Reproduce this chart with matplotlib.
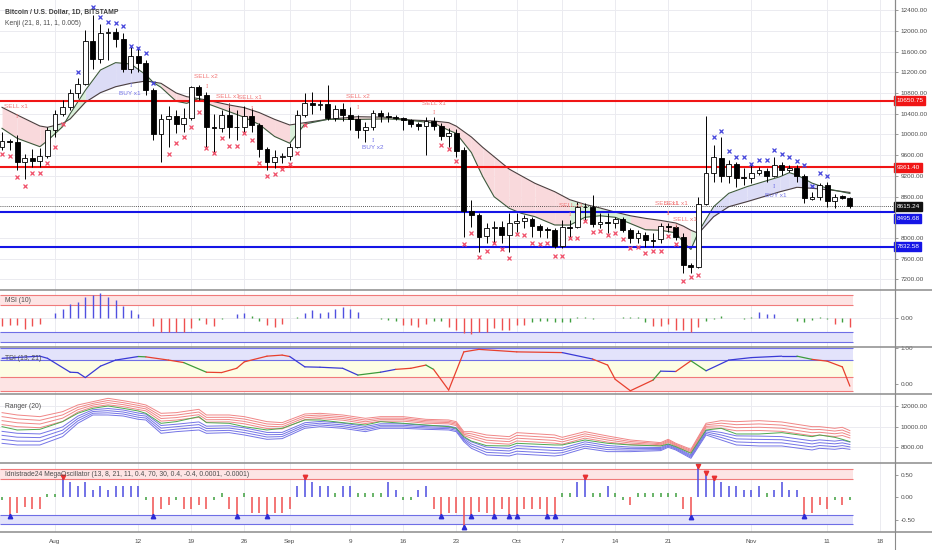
import matplotlib
matplotlib.use("Agg")
import matplotlib.pyplot as plt
from matplotlib.lines import Line2D
from matplotlib.ticker import FuncFormatter

plt.rcParams['font.family'] = ['Liberation Sans', 'DejaVu Sans']

# ---------------------------------------------------------------- data
# x = day offset from 1 Aug 2019 (first candle 25 Jul, last 14 Nov)
days = list(range(-7, 106))

opens = [9763, 9880, 9845, 9474, 9540, 9490, 9590, 10085, 10400, 10520, 10800, 10970, 11800, 11450,
         11950, 11975, 11850, 11260, 11520, 11380, 10860, 10010, 10300, 10350, 10200, 10310, 10910,
         10760, 10140, 10120, 10380, 10150, 10140, 10355, 10180, 9712, 9474, 9570, 9590, 9763, 10375,
         10613, 10568, 10580, 10310, 10484, 10375, 10290, 10085, 10150, 10420, 10355, 10340, 10310,
         10278, 10201, 10163, 10259, 10163, 9969, 10034, 9700, 8528, 8445, 8046, 8187, 8220, 8058,
         8297, 8335, 8368, 8239, 8168, 8155, 7853, 8220, 8207, 8593, 8593, 8271, 8316, 8284, 8361,
         8155, 8007, 8058, 7962, 7975, 8232, 8207, 8026, 7480, 7435, 8657, 9262, 9538, 9197, 9422,
         9171, 9152, 9262, 9300, 9197, 9410, 9313, 9345, 9197, 8747, 8798, 9023, 8715, 8811, 8766]
highs = [10052, 9910, 9990, 9620, 9710, 9730, 10150, 10470, 10660, 10870, 11080, 12020, 12310, 12140,
         12060, 12050, 11950, 11690, 11690, 11440, 10890, 10400, 10540, 10470, 10500, 10940, 10950,
         10810, 10400, 10470, 10600, 10480, 10540, 10500, 10214, 9763, 9700, 9635, 9830, 10470, 10790,
         10825, 10660, 10950, 10570, 10600, 10530, 10375, 10245, 10470, 10470, 10440, 10375, 10340,
         10290, 10245, 10340, 10340, 10214, 10120, 10100, 9763, 8734, 8477, 8284, 8330, 8330, 8477,
         8477, 8445, 8412, 8270, 8220, 8187, 8348, 8348, 8702, 8670, 8830, 8477, 8477, 8412, 8412,
         8187, 8155, 8123, 8091, 8284, 8284, 8252, 8091, 7525, 8785, 10355, 9795, 9956, 9506, 9474,
         9345, 9410, 9378, 9345, 9570, 9474, 9410, 9410, 9236, 8895, 9056, 9088, 8850, 8830, 8785]
lows = [9700, 9700, 9313, 9130, 9380, 9380, 9550, 9950, 10350, 10470, 10700, 10960, 11270, 11370,
        11430, 11690, 11210, 11180, 11210, 10760, 9890, 9470, 9760, 10020, 10050, 10280, 10660, 9760,
        9670, 10050, 9924, 9900, 10050, 10050, 9570, 9310, 9345, 9440, 9506, 9730, 10340, 10400,
        10470, 10280, 10250, 10250, 10085, 9925, 9860, 10085, 10245, 10245, 10280, 10085, 10150,
        10085, 9600, 10085, 9892, 9760, 9570, 8026, 8220, 7737, 7898, 7898, 7898, 7737, 8123, 8187,
        8026, 8026, 7994, 7801, 7801, 8026, 8187, 8350, 8220, 8187, 8091, 8187, 8123, 7898, 7898,
        7834, 7834, 7898, 8123, 7962, 7319, 7319, 7425, 8637, 9088, 9088, 9056, 8991, 9023, 9056,
        9217, 9088, 9185, 9217, 9281, 9088, 8670, 8734, 8734, 8605, 8573, 8747, 8573]
closes = [9880, 9845, 9474, 9540, 9490, 9590, 10085, 10400, 10520, 10800, 10970, 11800, 11450, 11950,
          11975, 11850, 11260, 11520, 11380, 10860, 10010, 10300, 10350, 10200, 10310, 10910, 10760,
          10140, 10120, 10380, 10150, 10140, 10355, 10180, 9712, 9474, 9570, 9590, 9763, 10375, 10613,
          10568, 10580, 10310, 10484, 10375, 10290, 10085, 10150, 10420, 10355, 10340, 10310, 10278,
          10201, 10163, 10259, 10163, 9969, 10034, 9686, 8528, 8445, 8026, 8187, 8207, 8058, 8297,
          8335, 8380, 8239, 8155, 8162, 7853, 8207, 8187, 8593, 8590, 8271, 8316, 8284, 8361, 8155,
          7994, 8091, 7962, 7950, 8232, 8207, 8026, 7480, 7448, 8657, 9262, 9557, 9197, 9422, 9152,
          9152, 9262, 9313, 9197, 9410, 9313, 9345, 9197, 8766, 8798, 9023, 8715, 8798, 8779, 8615.24]

# horizontal levels drawn on the price pane
red_levels = [10650.75, 9361.40]
blue_levels = [8495.68, 7832.58]
last_price = 8615.24
price_ticks = [7200, 7600, 8000, 8800, 9200, 9600, 10000, 10400, 10800, 11200, 11600, 12000, 12400]

# Kenji lines (at these days)
kenji_days = [-7, -5, -2, -1, 1, 2, 4, 6, 8, 10, 12, 13, 14, 16, 17.4, 19, 20, 23, 25, 27, 29, 31, 33,
              36, 40, 44, 47, 50, 52, 53, 55, 56.5, 58, 60, 61.6, 63.4, 66, 68, 70, 72, 74, 76, 78,
              80, 82, 83, 84, 85, 87, 89, 91.4, 93.6, 95.8, 97, 98, 100, 102.4, 105]
kenji_fast = [10117, 9924, 9763, 9879, 10150, 10400, 10850, 11243, 11385, 11359, 11150, 11000, 10908,
              10640, 10600, 10696, 10600, 10439, 10330, 10190, 9960, 9830, 10200, 10290, 10290, 10300,
              10270, 10220, 10080, 10020, 9650, 9185, 8798, 8573, 8477, 8412, 8252, 8250, 8400, 8430,
              8400, 8280, 8160, 8150, 8100, 7920, 7780, 8120, 8605, 8863, 8991, 9088, 9185, 9262, 9217,
              9060, 8940, 8860]
kenji_slow = [10522, 10375, 10162, 10137, 10210, 10300, 10620, 10806, 10920, 10986, 11030, 11010, 10986,
              10800, 10728, 10690, 10664, 10568, 10516, 10420, 10291, 10182, 10227, 10291, 10342, 10330,
              10278, 10259, 10227, 10160, 9950, 9750, 9570, 9330, 9200, 9056, 8895, 8740, 8650, 8580,
              8500, 8430, 8380, 8340, 8290, 8230, 8150, 8090, 8412, 8605, 8702, 8798, 8895, 8940, 8979,
              8960, 8927, 8880]
kenji_zone = "rrrgggbbbbggrrrrrrrrrgbrrrrrrrrrrrrrrggggrrrrrgbbbbbbbbbb"

# signal crosses
sell_x_days = [-7, -6, -5, -4, -3, -2, -1, 0, 1, 15, 16, 17, 18, 19, 20, 21, 22, 23, 24, 25, 26, 27, 28,
               29, 30, 31, 32, 33, 51, 52, 53, 54, 55, 56, 57, 58, 59, 60, 61, 62, 63, 64, 65, 66, 67,
               68, 69, 70, 71, 72, 73, 74, 75, 76, 77, 78, 79, 80, 81, 82, 83, 84, 85]
sell_x_prices = [9622, 9583, 9185, 9004, 9249, 9249, 9442, 9763, 10201, 9622, 9841, 9944, 10137, 10439,
                 9731, 9635, 9924, 9776, 9776, 10021, 9892, 9442, 9197, 9236, 9326, 9429, 9635, 10182,
                 9796, 9712, 9493, 7885, 8091, 7628, 7756, 7898, 7788, 7608, 8078, 8059, 7898, 7885,
                 7898, 7660, 7660, 7994, 7994, 8335, 8110, 8136, 8059, 8104, 7975, 7801, 7820, 7705,
                 7756, 7756, 8046, 7885, 7177, 7255, 7287]
buy_x_days = [3, 5, 6, 7, 8, 9, 10, 11, 12, 13, 87, 88, 89, 90, 91, 92, 93, 94, 95, 96, 97, 98, 99,
              100, 101, 102]
buy_x_prices = [11211, 12452, 12259, 12163, 12157, 12092, 11706, 11661, 11565, 10986, 9943, 10072, 9686,
                9557, 9557, 9429, 9506, 9506, 9699, 9615, 9570, 9493, 9410, 9004, 9262, 9197]

# signal labels: text, day, price, tick day, tick price
signal_text = ["SELL x1", "BUY x1", "SELL x2", "SELL x1", "SELL x1", "SELL x2", "BUY x2", "SELL x1",
               "SELL x1", "SELL x1", "SELL x1", "SELL x1", "BUY x1"]
signal_day = [-5.2, 9.9, 19.9, 22.9, 25.8, 40, 42, 50, 68.2, 80.8, 82.0, 83.2, 95.2]
signal_price = [10529, 10780, 11108, 10722, 10703, 10722, 9738, 10587, 8637, 8676, 8676, 8367, 8830]
signal_tick_day = [-5, 10, 20, 23, 26, 40, 42, 50, 68, 81, 81, 82, 95]
signal_tick_price = [10342, 10940, 10934, 10535, 10504, 10523, 9892, 10426, 8458, 8483, 8483, 8219, 9004]

# MSI (10)
msi = [-0.33, -0.29, -0.29, -0.47, -0.33, -0.26, 0.0, 0.21, 0.40, 0.61, 0.69, 0.92, 0.98, 1.06, 0.92,
       0.78, 0.50, 0.33, 0.20, 0.0, -0.33, -0.57, -0.57, -0.57, -0.57, -0.43, -0.06, -0.24, -0.31,
       -0.04, 0.02, 0.17, 0.21, 0.11, -0.10, -0.29, -0.38, -0.24, 0.01, 0.04, 0.24, 0.33, 0.21, 0.26,
       0.41, 0.47, 0.38, 0.27, 0.03, 0.01, -0.04, -0.07, -0.10, -0.30, -0.30, -0.38, -0.24, -0.10,
       -0.13, -0.38, -0.52, -0.64, -0.68, -0.57, -0.57, -0.43, -0.52, -0.52, -0.29, -0.29, -0.14,
       -0.10, -0.10, -0.14, -0.14, -0.14, 0.04, 0.04, -0.04, 0.0, 0.0, 0.02, 0.04, 0.04, 0.04, -0.14,
       -0.33, -0.33, -0.24, -0.52, -0.52, -0.57, -0.38, -0.10, -0.04, 0.11, 0.02, 0.02, -0.04, 0.04,
       0.27, 0.18, 0.18, 0.02, 0.02, -0.10, -0.14, -0.07, 0.04, -0.04, -0.24, -0.14, -0.38]

# TDI (13, 21)
tdi_days = [-7, -2, -1, 2, 3, 4, 6, 8, 11, 12, 15, 17, 20, 22, 24, 25, 28, 30, 31, 33, 35, 38, 40, 43,
            45, 47, 49, 50, 52, 54, 56, 61, 67, 71, 73, 74, 76, 79, 80, 82, 84, 86, 89, 92, 96, 98,
            100, 102, 104, 105]
tdi = [0.72, 0.78, 0.72, 0.33, 0.32, 0.18, 0.50, 0.67, 0.77, 0.76, 0.67, 0.60, 0.33, 0.32, 0.44, 0.62,
       0.78, 0.81, 0.77, 0.48, 0.47, 0.44, 0.25, 0.33, 0.41, 0.44, 0.53, 0.41, -0.17, 0.90, 0.97, 0.90,
       0.88, 0.70, 0.53, 0.13, -0.19, 0.11, 0.36, 0.35, 0.65, 0.37, 0.67, 0.74, 0.78, 0.78, 0.69, 0.64,
       0.48, -0.06]
tdi_state = "bbbbbbbbgrrgrrrrrrbbbbgbrrgrrrrrbrrrrgbrgbbbbgrrr"

# Ranger (20): top red, middle green, bottom blue
ranger_days = [-7, -5, -2, 1, 3, 5, 7, 9, 11, 12, 14, 16, 19, 20, 23, 25, 28, 30, 33, 35, 38, 41, 43,
               46, 49, 52, 53, 54, 55, 57, 60, 61, 66, 67, 70, 73, 76, 80, 81, 82, 84, 86, 88, 90, 93,
               96, 100, 101, 103, 104, 105]
ranger_top = [11355, 11130, 10968, 11452, 12098, 12421, 12743, 12517, 12259, 12098, 11291, 11356, 11678,
              11130, 11130, 10968, 10484, 10387, 11226, 11291, 11130, 10807, 10968, 10968, 10710, 10646,
              10484, 9515, 9515, 9193, 9031, 9419, 9193, 8967, 9515, 9096, 8709, 8450, 8773, 8386, 7805,
              10323, 10581, 10484, 10581, 10452, 10000, 10000, 9838, 9935, 9612]
ranger_mid = [10000, 9677, 9741, 10484, 11291, 11775, 12001, 11775, 11517, 11291, 10323, 10484, 10968,
              10387, 10323, 10000, 9677, 9838, 10645, 10645, 10387, 10161, 10484, 10323, 10161, 10000,
              9838, 9031, 8600, 8160, 8128, 8386, 8225, 8225, 8708, 8386, 8225, 8128, 8321, 8063, 7418,
              9677, 9838, 9290, 9290, 9419, 9031, 9193, 8967, 8773, 8547]
ranger_bot = [8386, 8225, 8225, 9031, 10323, 11130, 11130, 11033, 10710, 10646, 9354, 9515, 9677, 9354,
              9419, 9193, 8773, 8838, 9838, 10000, 9838, 9515, 9838, 9838, 9741, 9677, 9515, 8547, 7902,
              7256, 7160, 7353, 7160, 7256, 7902, 7579, 7579, 7676, 7999, 7740, 6933, 9193, 8709, 8225,
              8128, 8128, 7740, 7902, 7805, 7902, 7805]

# Idnistrade24 MegaOscillator
osc = [-0.05, -0.41, -0.34, -0.21, -0.27, -0.27, 0.07, 0.07, 0.46, 0.33, 0.26, 0.33, 0.16, 0.25, 0.16,
       0.25, 0.25, 0.25, 0.25, -0.06, -0.41, -0.27, -0.17, -0.07, -0.27, -0.27, -0.17, -0.27, -0.07,
       0.09, -0.27, -0.41, 0.09, -0.34, -0.34, -0.41, -0.34, -0.34, -0.27, 0.25, 0.46, 0.33, 0.25,
       0.25, 0.09, 0.25, 0.25, 0.09, 0.09, 0.09, 0.09, 0.33, 0.16, -0.07, -0.07, 0.16, 0.25, -0.27,
       -0.41, -0.34, -0.34, -0.65, -0.41, -0.32, -0.34, -0.41, -0.27, -0.41, -0.41, -0.27, -0.27,
       -0.27, -0.41, -0.41, 0.09, 0.09, 0.33, 0.46, 0.09, 0.09, 0.25, 0.09, -0.07, -0.17, 0.09, 0.09,
       0.09, 0.09, 0.09, 0.09, -0.27, -0.44, 0.70, 0.53, 0.44, 0.33, 0.25, 0.25, 0.16, 0.16, 0.25,
       0.09, 0.16, 0.33, 0.16, 0.16, -0.41, -0.34, -0.17, -0.27, -0.07, -0.17, -0.07]
osc_up_days = [-6, 13, 24, 28, 51, 54, 55, 58, 60, 61, 65, 66, 84, 99]
osc_down_days = [1, 33, 70, 85, 86, 87]

tick_days = [0, 11, 18, 25, 31, 39, 46, 53, 61, 67, 74, 81, 92, 102, 109]
tick_labels = ["Aug", "12", "19", "26", "Sep", "9", "16", "23", "Oct", "7", "14", "21", "Nov", "11", "18"]

# ---------------------------------------------------------------- layout
W, H = 932, 550
X_RIGHT = 895
XMIN, XMAX = -7.27, 110.96
LAST = 105.45
FS = 4.6
GRID = '#ebebf0'
TXT = '#4d4d4d'
PINK, LBLUE, LGREEN = '#f9d9dc', '#dcdcf6', '#d9f0d9'

fig = plt.figure(figsize=(W / 100, H / 100), dpi=100)
fig.patch.set_facecolor('white')


def pane(top, bottom):
    ax = fig.add_axes([0, 1 - bottom / H, X_RIGHT / W, (bottom - top) / H])
    ax.set_xlim(XMIN, XMAX)
    for s in ('top', 'left', 'bottom'):
        ax.spines[s].set_visible(False)
    ax.spines['right'].set_color('#8a8a8a')
    ax.spines['right'].set_linewidth(0.8)
    ax.yaxis.tick_right()
    ax.tick_params(axis='y', labelsize=FS, labelcolor=TXT, color='#8a8a8a', length=2.5, width=0.6, pad=1.5)
    ax.set_xticks(tick_days)
    ax.tick_params(axis='x', length=0, labelbottom=False)
    ax.grid(axis='x', color=GRID, lw=0.7)
    ax.set_axisbelow(True)
    ax.yaxis.set_major_formatter(FuncFormatter(lambda v, p: f'{v:.2f}'))
    return ax


# ---- price pane
ax = pane(0, 290)
ax.set_ylim(6997, 12594)
ax.set_yticks(price_ticks)
ax.grid(axis='y', color=GRID, lw=0.7)

for i, z in enumerate(kenji_zone):
    col = {'r': PINK, 'b': LBLUE, 'g': LGREEN}[z]
    ax.fill_between(kenji_days[i:i + 2], kenji_fast[i:i + 2], kenji_slow[i:i + 2], color=col, lw=0, zorder=1)
ax.plot(kenji_days, kenji_slow, color='#4b3f3f', lw=0.8, zorder=2)
ax.plot(kenji_days, kenji_fast, color='#3d5a3d', lw=0.8, zorder=2)

for lv in red_levels:
    ax.axhline(lv, color='#f01515', lw=1.5, zorder=2)
for lv in blue_levels:
    ax.axhline(lv, color='#1515e6', lw=1.5, zorder=2)
ax.axhline(last_price, color='#222222', lw=0.6, ls=(0, (1, 1.5)), zorder=2)

bottoms = [min(o, c) for o, c in zip(opens, closes)]
heights = [max(abs(c - o), 10) for o, c in zip(opens, closes)]
faces = ['white' if c >= o else 'black' for o, c in zip(opens, closes)]
ax.vlines(days, lows, highs, color='black', lw=0.7, zorder=3)
ax.bar(days, heights, bottom=bottoms, width=0.64, color=faces, edgecolor='black', lw=0.6, zorder=4)

ax.plot(sell_x_days, sell_x_prices, ls='none', marker='x', color='#f0506a', ms=2.8, mew=0.9, zorder=5)
ax.plot(buy_x_days, buy_x_prices, ls='none', marker='x', color='#4646dc', ms=2.8, mew=0.9, zorder=5)

for t, d, p, td, tp in zip(signal_text, signal_day, signal_price, signal_tick_day, signal_tick_price):
    col = '#f27878' if t.startswith('SELL') else '#7272e6'
    ax.text(d, p, t, color=col, fontsize=FS, ha='center', va='center', zorder=6)
    ax.text(td, tp, 'I', color=col, fontsize=4, ha='center', va='center', family='DejaVu Serif', zorder=6)


def level_box(price, text, col, dy=0):
    ax.annotate(text, xy=(1, price), xycoords=('axes fraction', 'data'), xytext=(1.0, dy),
                textcoords='offset points', ha='left', va='center', fontsize=FS, color='white',
                bbox=dict(boxstyle='square,pad=0.3', fc=col, ec=col), annotation_clip=False, zorder=10)


level_box(red_levels[0], f'{red_levels[0]:.2f}', '#f01515')
level_box(red_levels[1], f'{red_levels[1]:.2f}', '#f01515')
level_box(last_price, f'{last_price:.2f}', '#111111')
level_box(blue_levels[0], f'{blue_levels[0]:.2f}', '#1515e6', dy=-4.2)
level_box(blue_levels[1], f'{blue_levels[1]:.2f}', '#1515e6')

# ---- MSI pane
am = pane(290, 346.7)
am.set_ylim(-1.21, 1.20)
am.set_yticks([0])
am.grid(axis='y', color=GRID, lw=0.7)
am.fill_between([XMIN, LAST], 0.566, 0.99, color='#fde4e4', lw=0)
am.hlines([0.566, 0.99], XMIN, LAST, color='#f07a7a', lw=0.8)
am.fill_between([XMIN, LAST], -1.01, -0.58, color='#e3e3fb', lw=0)
am.hlines([-1.01, -0.58], XMIN, LAST, color='#6e6ee6', lw=0.8)
msi_cols = ['#5050e0' if v >= 0.15 else '#ee5050' if v <= -0.2 else '#3f9f3f' for v in msi]
am.vlines(days, 0, msi, colors=msi_cols, lw=1.0)

# ---- TDI pane
at = pane(346.7, 394.3)
at.set_ylim(-0.289, 1.045)
at.set_yticks([0, 1])
at.fill_between([XMIN, LAST], 0.67, 1.0, color='#e3e3fb', lw=0)
at.fill_between([XMIN, LAST], 0.2, 0.67, color='#fdfde4', lw=0)
at.fill_between([XMIN, LAST], -0.21, 0.2, color='#fde4e4', lw=0)
at.hlines([0.67, 1.0], XMIN, LAST, color='#6e6ee6', lw=0.8)
at.hlines([-0.21, 0.2], XMIN, LAST, color='#f07a7a', lw=0.8)
for i, s in enumerate(tdi_state):
    col = {'b': '#3a3ad6', 'r': '#e8402e', 'g': '#3c9c3c'}[s]
    at.plot(tdi_days[i:i + 2], tdi[i:i + 2], color=col, lw=0.9, solid_capstyle='round')

# ---- Ranger pane
ar = pane(394.3, 463.3)
ar.set_ylim(6450, 13133)
ar.set_yticks([8000, 10000, 12000])
ar.grid(axis='y', color=GRID, lw=0.7)
widths = [(t - b) * 0.13 for t, b in zip(ranger_top, ranger_bot)]
for k in range(4):
    ar.plot(ranger_days, [t - k * w for t, w in zip(ranger_top, widths)], color='#f08686', lw=0.7)
    ar.plot(ranger_days, [b + k * w for b, w in zip(ranger_bot, widths)], color='#7474e6', lw=0.7)
ar.plot(ranger_days, ranger_mid, color='#4ea84e', lw=0.7)

# ---- MegaOscillator pane
ao = pane(463.3, 532.3)
ao.set_ylim(-0.778, 0.756)
ao.set_yticks([-0.5, 0, 0.5])
ao.fill_between([XMIN, LAST], 0.4, 0.62, color='#fde4e4', lw=0)
ao.hlines([0.4, 0.62], XMIN, LAST, color='#f07a7a', lw=0.8)
ao.fill_between([XMIN, LAST], -0.6, -0.4, color='#e3e3fb', lw=0)
ao.hlines([-0.6, -0.4], XMIN, LAST, color='#6e6ee6', lw=0.8)
osc_cols = ['#4c4ce0' if v >= 0.15 else '#f05050' if v <= -0.15 else '#3f9f3f' for v in osc]
ao.vlines(days, 0, osc, colors=osc_cols, lw=1.1)
ao.plot(osc_up_days, [osc[days.index(d)] for d in osc_up_days], ls='none', marker='^',
        color='#2b2bd6', ms=3.2, zorder=5)
ao.plot(osc_down_days, [osc[days.index(d)] for d in osc_down_days], ls='none', marker='v',
        color='#e83030', ms=3.2, zorder=5)
ao.set_xticks(tick_days)
ao.set_xticklabels(tick_labels)
ao.tick_params(axis='x', labelbottom=True, labelsize=FS, labelcolor=TXT, pad=4.5)

# ---- separators and texts
for y in (290, 346.7, 394.3, 463.3, 532.3):
    fig.add_artist(Line2D([0, 1], [1 - y / H] * 2, transform=fig.transFigure, color='#8c8c8c', lw=1.1))
fig.add_artist(Line2D([X_RIGHT / W] * 2, [0, 1], transform=fig.transFigure, color='#8a8a8a', lw=0.8))

fig.text(5 / W, 1 - 12 / H, "Bitcoin / U.S. Dollar, 1D, BITSTAMP", fontsize=4.9, color='#3c3c3c',
         weight='bold', va='center')
fig.text(5 / W, 1 - 23.5 / H, "Kenji (21, 8, 11, 1, 0.005)", fontsize=4.9, color=TXT, va='center')
fig.text(5 / W, 1 - 301 / H, "MSI (10)", fontsize=4.9, color=TXT, va='center')
fig.text(5 / W, 1 - 358.5 / H, "TDI (13, 21)", fontsize=4.9, color=TXT, va='center')
fig.text(5 / W, 1 - 406 / H, "Ranger (20)", fontsize=4.9, color=TXT, va='center')
fig.text(5 / W, 1 - 474.5 / H,
         "Idnistrade24 MegaOscillator (13, 8, 21, 11, 0.4, 70, 30, 0.4, -0.4, 0.0001, -0.0001)",
         fontsize=4.9, color=TXT, va='center')

fig.savefig('out.png', dpi=100)
